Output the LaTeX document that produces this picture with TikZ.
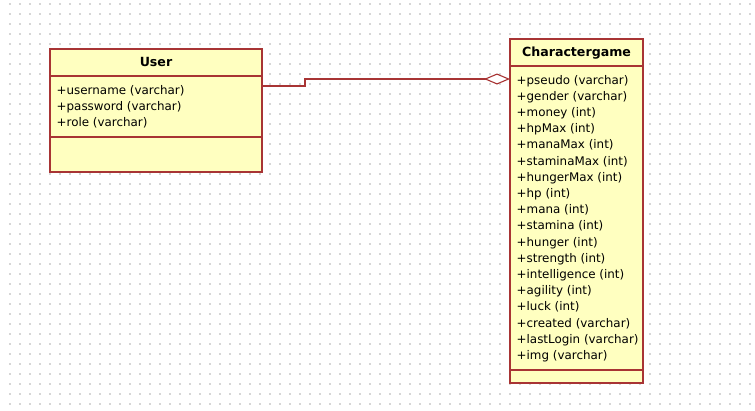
\documentclass[tikz,border=0pt]{standalone}
\usepackage{fontspec}
\setmainfont{DejaVu Sans}
\usetikzlibrary{arrows.meta,calc}
\definecolor{umlfill}{HTML}{FFFFC0}
\definecolor{umlline}{HTML}{A83434}
\definecolor{griddot}{HTML}{D6D6D6}
\begin{document}
\begin{tikzpicture}[x=1pt,y=-1pt,
  comp/.style={draw=umlline, fill=umlfill, line width=1.4pt, anchor=north west, inner sep=0pt, outer sep=0pt},
  hdr/.style={font=\fontsize{12.6}{14}\selectfont\bfseries, inner sep=0pt, anchor=base},
  attr/.style={font=\fontsize{11.9}{14}\selectfont, inner sep=0pt, anchor=base west},
  conn/.style={draw=umlline, line width=1.4pt},
]
\useasboundingbox[fill=white] (0,0) rectangle (755,410);
% dotted grid
\foreach \x in {10,20,...,750}
  \foreach \y in {4,14,...,404}
    \fill[griddot] (\x-0.8,\y-0.8) rectangle ++(1.6,1.6);

% User class
\node[comp, minimum width=212pt, minimum height=27pt] (userHead) at (50,49) {};
\node[comp, minimum width=212pt, minimum height=61pt] (userAttr) at (50,76) {};
\node[comp, minimum width=212pt, minimum height=35pt] (userOps) at (50,137) {};
\node[hdr] (userTitle) at (156,66.8) {User};
\foreach \t [count=\i from 0] in {+username (varchar),+password (varchar),+role (varchar)}
  \node[attr] (ua\i) at (56.5,94+16*\i) {\t};

% Charactergame class
\node[comp, minimum width=133pt, minimum height=27pt] (charHead) at (510,39) {};
\node[comp, minimum width=133pt, minimum height=304pt] (charAttr) at (510,66) {};
\node[comp, minimum width=133pt, minimum height=13pt] (charOps) at (510,370) {};
\node[hdr] (charTitle) at (576.5,56.8) {Charactergame};
\foreach \t [count=\i from 0] in {+pseudo (varchar),+gender (varchar),+money (int),+hpMax (int),+manaMax (int),+staminaMax (int),+hungerMax (int),+hp (int),+mana (int),+stamina (int),+hunger (int),+strength (int),+intelligence (int),+agility (int),+luck (int),+created (varchar),+lastLogin (varchar),+img (varchar)}
  \node[attr] (ca\i) at (516.5,84+16.2*\i) {\t};

% aggregation connector
\coordinate (uStart) at ($(userAttr.north east)+(0,10)$);
\coordinate (cEnd) at ($(charAttr.north west)+(0,13)$);
\coordinate (bend) at (305,0);
\draw[conn, -{Diamond[open, fill=white, length=26pt, width=11pt, line width=1.1pt]}] (uStart) -- (uStart -| bend) |- (cEnd);
\end{tikzpicture}
\end{document}
